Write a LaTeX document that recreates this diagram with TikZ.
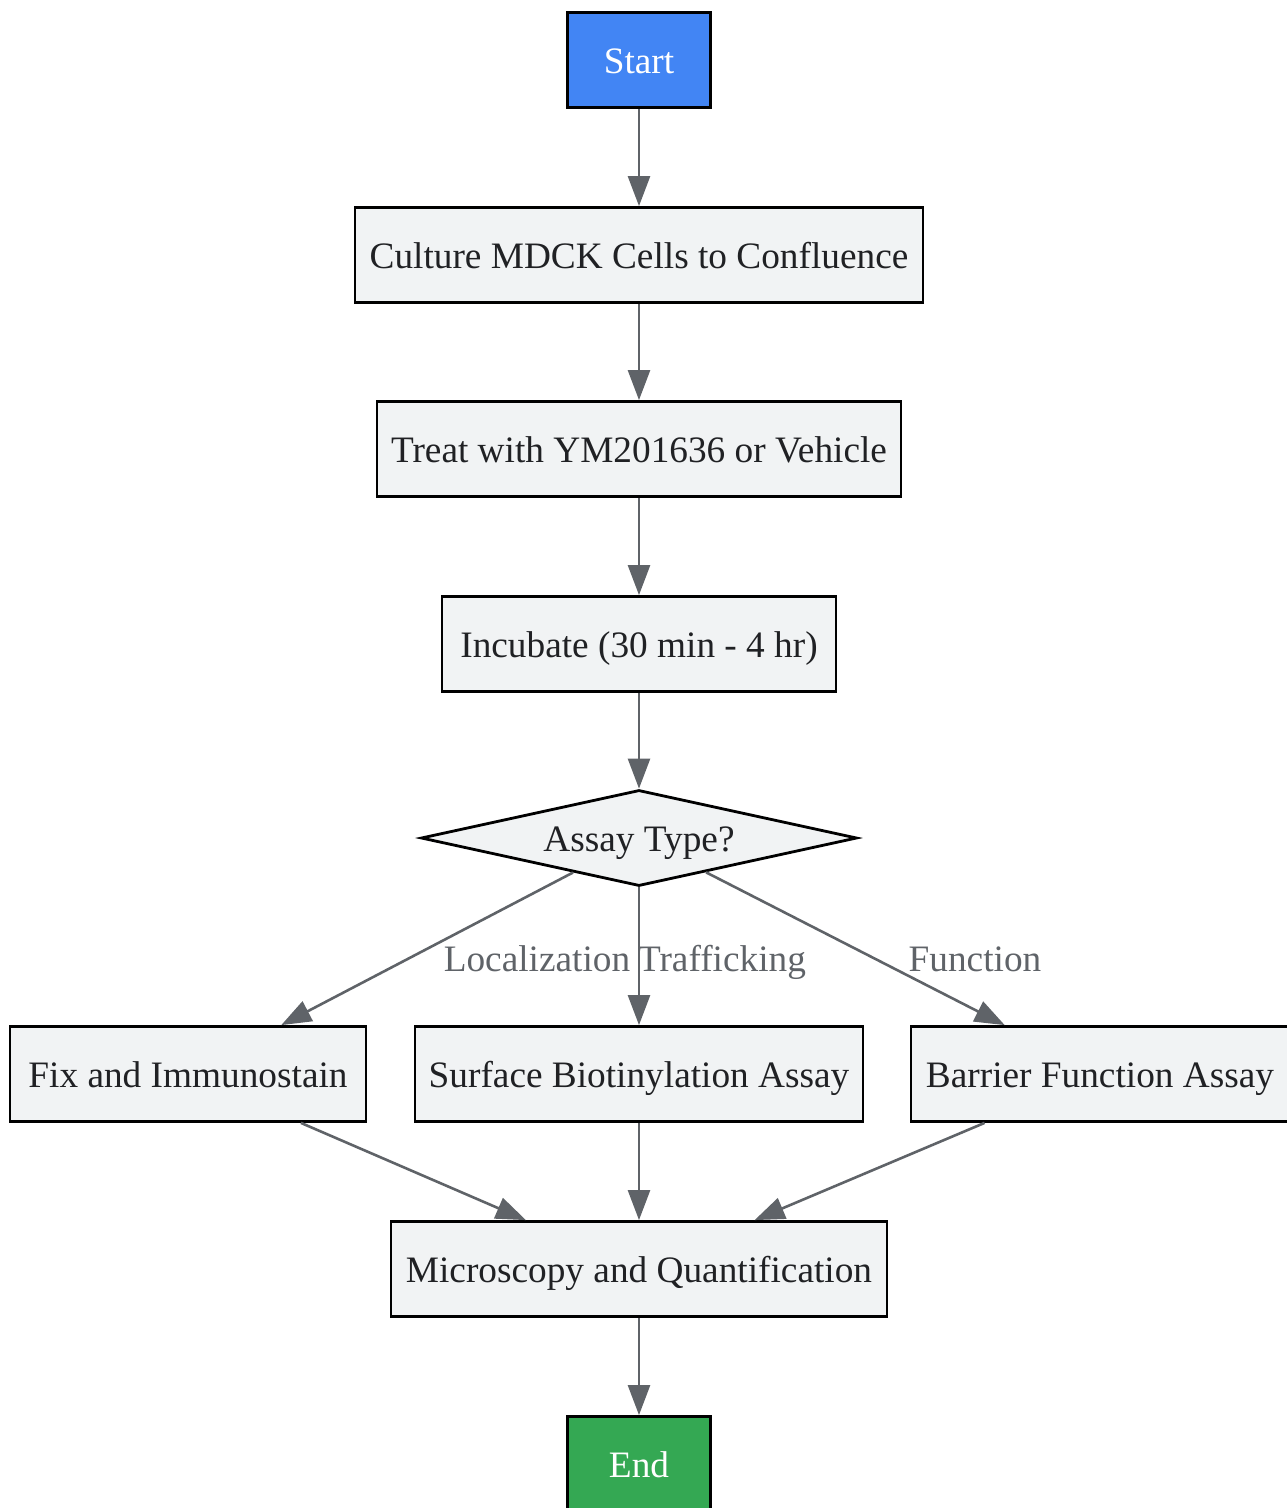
\documentclass[tikz,border=0pt]{standalone}
\usepackage{fontspec}
\setmainfont{Liberation Serif}
\usetikzlibrary{shapes.geometric,arrows.meta}
\definecolor{boxfill}{HTML}{F1F3F4}
\definecolor{edgegray}{HTML}{5F6368}
\definecolor{txt}{HTML}{202124}
\definecolor{startblue}{HTML}{4285F4}
\definecolor{endgreen}{HTML}{34A853}
\tikzset{
  base/.style={draw=black, line width=2.8pt, fill=boxfill, text=txt, inner sep=0pt,
    font=\fontsize{37.3}{44}\selectfont, text height=30pt, text depth=4pt, minimum height=95pt},
  proc/.style={base, rectangle},
  startnode/.style={base, fill=startblue, text=white, minimum width=143pt},
  endnode/.style={base, fill=endgreen, text=white, minimum width=143pt},
  decision/.style={base, diamond, aspect=4.54, minimum width=436pt, minimum height=96pt},
  conn/.style={draw=edgegray, line width=2.6pt, -{Triangle[length=30pt,width=22pt]}},
  elabel/.style={text=edgegray, font=\fontsize{37.3}{44}\selectfont, inner sep=0pt, anchor=base}
}
\begin{document}
\begin{tikzpicture}[x=1pt,y=-1pt]
\useasboundingbox (0,0) rectangle (1286,1508);
\node[startnode] (start) at (639,60) {Start};
\node[proc, minimum width=568pt] (culture) at (639,255) {Culture MDCK Cells to Confluence};
\node[proc, minimum width=524pt] (treat) at (639,449) {Treat with YM201636 or Vehicle};
\node[proc, minimum width=394pt] (incub) at (639,644) {Incubate (30 min - 4 hr)};
\node[decision] (assay) at (639,838) {Assay Type?};
\node[proc, minimum width=356pt] (fix) at (188,1074) {Fix and Immunostain};
\node[proc, minimum width=448pt] (surf) at (639,1074) {Surface Biotinylation Assay};
\node[proc, minimum width=378pt] (barr) at (1100,1074) {Barrier Function Assay};
\node[proc, minimum width=496pt] (micro) at (639,1269) {Microscopy and Quantification};
\node[endnode] (end) at (639,1464) {End};

\draw[conn] (start) -- (culture);
\draw[conn] (culture) -- (treat);
\draw[conn] (treat) -- (incub);
\draw[conn] (incub) -- (assay);
\draw[conn] (assay) -- (fix);
\draw[conn] (assay) -- (surf);
\draw[conn] (assay) -- (barr);
\draw[conn] (fix) -- (micro);
\draw[conn] (surf) -- (micro);
\draw[conn] (barr) -- (micro);
\draw[conn] (micro) -- (end);

\node[elabel] (l1) at (537,971) {Localization};
\node[elabel] (l2) at (722,971) {Trafficking};
\node[elabel] (l3) at (975,971) {Function};
\end{tikzpicture}
\end{document}
